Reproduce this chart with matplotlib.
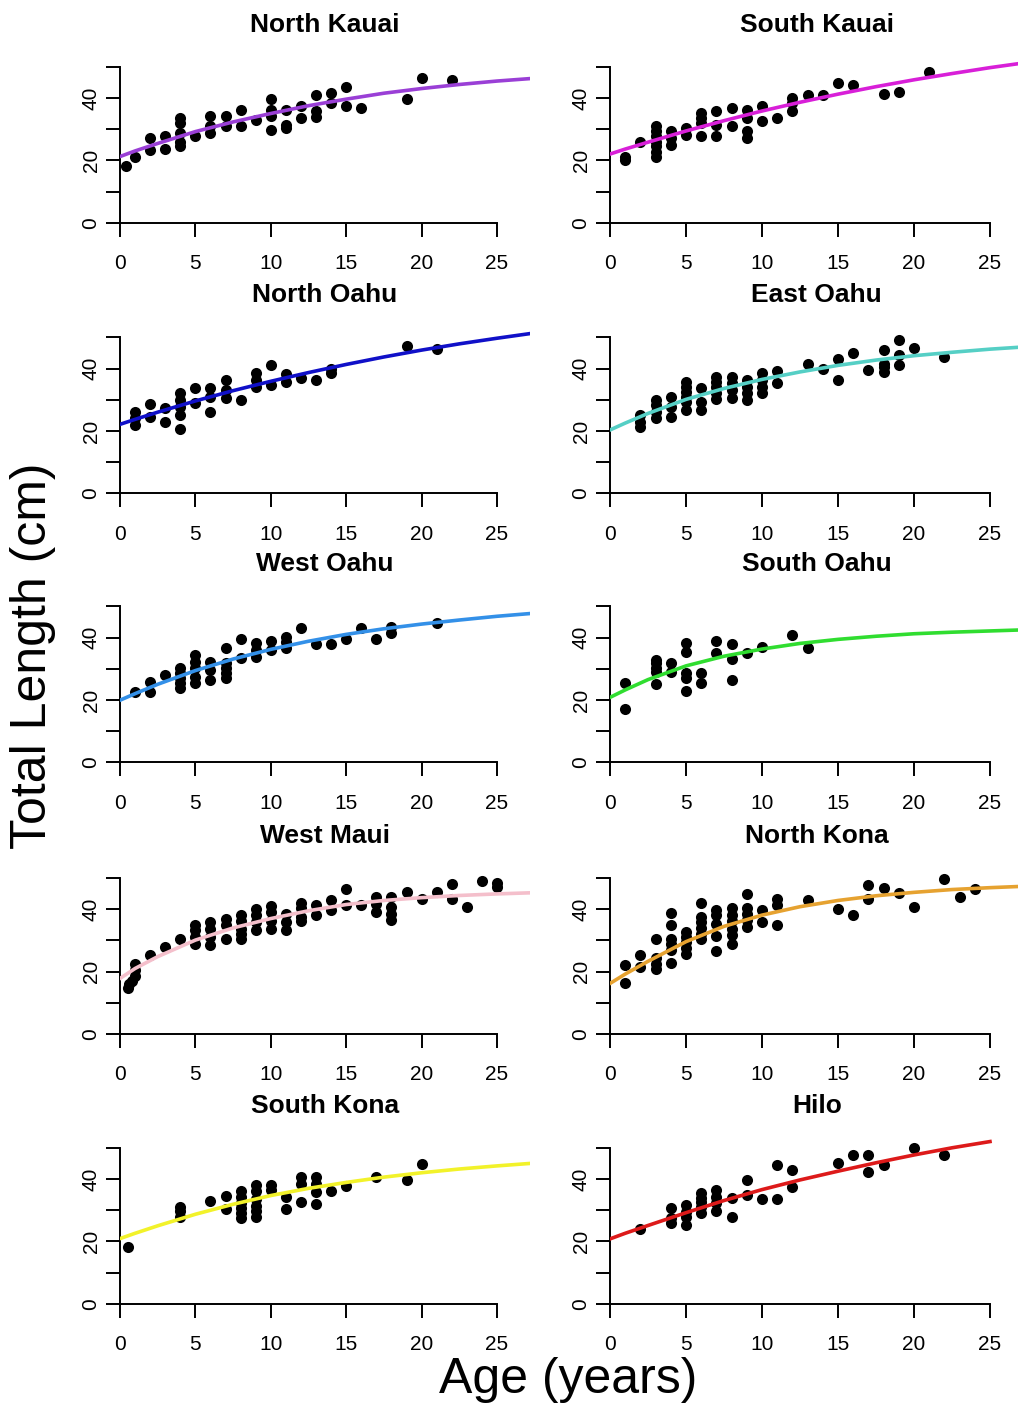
import matplotlib.pyplot as plt
import numpy as np

plt.rcParams['font.family'] = ['Liberation Sans', 'DejaVu Sans']

curve_age = [0, 1, 2.5, 5, 7.5, 10, 12.5, 15, 17.5, 20, 22.5, 25, 27.5]

# North Kauai
nka_age = [0.4, 1, 2, 2, 3, 3, 4, 4, 4, 4, 4, 5, 6, 6, 6, 7, 7, 8, 8, 9,
           10, 10, 10, 10, 11, 11, 11, 12, 12, 13, 13, 13, 14, 14, 15, 15, 16, 19, 20, 22]
nka_len = [18.3, 21.2, 27.3, 23.4, 27.9, 23.6, 33.6, 32.0, 28.7, 26.0, 24.5, 27.7, 34.1, 28.7, 30.9,
           34.1, 31.0, 36.2, 31.1, 33.0, 39.5, 36.2, 34.1, 29.8, 36.2, 31.4, 30.3, 37.3, 33.6,
           40.8, 35.7, 33.9, 41.6, 38.4, 43.5, 37.3, 36.8, 39.5, 46.4, 45.6]
nka_curve = [21.2, 23.0, 25.4, 29.2, 32.3, 35.0, 37.5, 39.6, 41.5, 43.0, 44.3, 45.4, 46.3]

# South Kauai
ska_age = [1, 1, 2, 3, 3, 3, 3, 3, 3, 3, 4, 4, 4, 5, 5, 6, 6, 6, 6, 7, 7, 7, 8, 8,
           9, 9, 9, 9, 10, 10, 11, 12, 12, 12, 13, 14, 15, 16, 18, 19, 21]
ska_len = [20.2, 21.2, 26.0, 30.9, 29.3, 27.7, 26.0, 24.5, 22.8, 21.2, 29.3, 27.1, 25.0, 30.3, 28.2,
           35.2, 33.6, 32.0, 27.7, 35.7, 31.4, 27.9, 36.8, 30.9, 36.2, 33.6, 29.3, 27.1, 37.5, 32.5,
           33.6, 40.0, 38.4, 35.7, 40.9, 40.9, 44.8, 44.1, 41.3, 41.9, 48.3]
ska_curve = [22.0, 23.6, 25.8, 29.4, 32.7, 35.8, 38.6, 41.2, 43.6, 45.8, 47.8, 49.7, 51.4]

# North Oahu
noa_age = [1, 1, 1, 2, 2, 3, 3, 4, 4, 4, 4, 4, 5, 5, 6, 6, 6, 7, 7, 7, 8, 9, 9, 9,
           10, 10, 11, 11, 12, 13, 14, 14, 19, 21]
noa_len = [26.1, 24.0, 21.9, 28.5, 24.5, 27.2, 22.7, 32.0, 29.9, 27.7, 25.1, 20.6, 33.6, 28.8,
           33.6, 31.0, 26.1, 36.3, 33.0, 30.4, 29.9, 38.4, 36.3, 34.1, 41.1, 34.7, 38.1, 35.7,
           36.8, 36.3, 40.0, 38.4, 47.3, 46.2]
noa_curve = [22.1, 23.7, 26.0, 29.6, 32.9, 35.9, 38.7, 41.3, 43.7, 45.9, 47.9, 49.7, 51.4]

# East Oahu
eoa_age = [2, 2, 2, 3, 3, 3, 3, 4, 4, 4, 5, 5, 5, 5, 5, 5, 6, 6, 6, 7, 7, 7, 7, 7,
           8, 8, 8, 8, 9, 9, 9, 9, 10, 10, 10, 10, 11, 11, 13, 14, 15, 15, 16, 17,
           18, 18, 18, 18, 19, 19, 19, 20, 22]
eoa_len = [25.1, 22.9, 21.3, 29.9, 28.3, 26.1, 24.0, 30.9, 27.7, 24.5, 35.7, 34.1, 32.5, 30.9,
           29.3, 26.7, 33.6, 29.3, 26.7, 37.3, 35.7, 34.1, 32.0, 30.2, 37.3, 35.2, 33.1, 30.7,
           36.3, 34.1, 32.0, 29.9, 38.4, 36.3, 34.1, 32.0, 39.1, 35.2, 41.6, 40.0, 43.2, 36.3,
           45.1, 39.5, 45.9, 41.6, 40.5, 38.9, 49.1, 44.3, 41.1, 46.6, 43.7]
eoa_curve = [20.3, 22.5, 25.6, 30.1, 33.6, 36.5, 38.9, 41.0, 42.7, 44.1, 45.2, 46.2, 47.0]

# West Oahu
woa_age = [1, 2, 2, 3, 4, 4, 4, 4, 4, 5, 5, 5, 5, 5, 6, 6, 6, 7, 7, 7, 7, 7, 8, 8,
           9, 9, 9, 10, 10, 11, 11, 11, 12, 13, 14, 15, 16, 17, 18, 18, 21]
woa_len = [22.6, 25.6, 22.6, 27.9, 30.1, 28.5, 26.9, 25.3, 23.9, 34.3, 32.2, 30.1, 27.4, 25.3,
           32.2, 29.5, 26.3, 36.5, 31.7, 30.1, 28.5, 26.9, 39.5, 33.3, 38.1, 35.9, 33.8, 38.8,
           35.9, 40.2, 38.6, 36.5, 43.1, 37.8, 37.8, 39.5, 42.9, 39.4, 43.4, 41.3, 44.8]
woa_curve = [19.9, 22.0, 25.0, 29.4, 33.1, 36.2, 38.8, 41.0, 42.8, 44.3, 45.6, 46.8, 47.8]

# South Oahu
soa_age = [1, 1, 3, 3, 3, 3, 3, 4, 4, 5, 5, 5, 5, 5, 6, 6, 7, 7, 8, 8, 8, 9, 10, 12, 13]
soa_len = [25.3, 17.0, 32.7, 31.7, 30.3, 29.0, 25.0, 31.7, 29.0, 38.1, 35.4, 28.5, 26.9, 22.9,
           28.7, 25.3, 38.9, 34.9, 37.9, 33.1, 26.3, 34.9, 36.8, 40.7, 36.5]
soa_curve = [20.8, 23.2, 26.5, 30.9, 34.0, 36.3, 38.1, 39.4, 40.4, 41.2, 41.7, 42.1, 42.5]

# West Maui
wma_age = [0.5, 0.6, 0.8, 1, 1, 1, 2, 3, 4, 5, 5, 5, 5, 6, 6, 6, 6, 7, 7, 7, 8, 8, 8, 8, 8,
           9, 9, 9, 9, 10, 10, 10, 10, 11, 11, 11, 12, 12, 12, 12, 13, 13, 14, 14, 15, 15, 16,
           17, 17, 17, 18, 18, 18, 18, 19, 20, 21, 22, 22, 23, 24, 25, 25]
wma_len = [14.8, 16.0, 17.0, 18.5, 20.5, 22.5, 25.3, 27.9, 30.6, 34.9, 33.3, 31.1, 29.0,
           35.9, 33.8, 31.1, 28.5, 36.8, 34.9, 30.6, 38.1, 36.3, 33.8, 32.2, 30.4,
           40.2, 38.1, 35.9, 33.3, 41.1, 39.1, 36.3, 33.5, 38.6, 35.9, 33.3, 42.1, 40.4, 37.5, 36.2,
           41.5, 38.1, 43.1, 39.9, 46.4, 41.5, 41.5, 43.9, 41.8, 39.1, 43.9, 40.7, 38.6, 36.5,
           45.5, 43.4, 45.5, 48.2, 43.4, 40.7, 49.0, 48.5, 47.1]
wma_curve = [17.8, 21.0, 24.8, 30.1, 34.0, 37.0, 39.5, 41.5, 42.8, 43.7, 44.4, 44.9, 45.3]

# North Kona
nko_age = [1, 1, 2, 2, 3, 3, 3, 3, 4, 4, 4, 4, 4, 4, 5, 5, 5, 5, 5, 6, 6, 6, 6, 6, 6,
           7, 7, 7, 7, 7, 8, 8, 8, 8, 8, 8, 9, 9, 9, 9, 9, 10, 10, 11, 11, 11, 13, 15, 16,
           17, 17, 18, 19, 20, 22, 23, 24]
nko_len = [22.1, 16.2, 25.3, 21.5, 30.6, 24.2, 22.3, 20.8, 38.9, 34.9, 30.6, 29.0, 26.9, 22.6,
           32.7, 31.1, 29.5, 27.6, 25.8, 42.1, 37.5, 35.9, 34.0, 32.2, 30.4,
           39.7, 38.1, 35.4, 31.5, 26.6, 40.4, 38.1, 36.2, 33.8, 31.7, 29.0,
           44.8, 40.4, 38.6, 36.5, 34.3, 39.7, 35.9, 43.2, 41.5, 34.9, 42.9, 40.0, 38.1,
           47.7, 43.4, 46.9, 45.3, 40.7, 49.6, 43.9, 46.6]
nko_curve = [16.2, 19.2, 23.3, 29.6, 34.5, 38.1, 40.8, 42.8, 44.3, 45.4, 46.3, 46.9, 47.4]

# South Kona
sko_age = [0.5, 4, 4, 4, 6, 7, 7, 8, 8, 8, 8, 8, 8, 9, 9, 9, 9, 9, 9, 10, 10, 11, 11,
           12, 12, 12, 13, 13, 13, 13, 14, 15, 17, 19, 20]
sko_len = [18.2, 31.0, 29.6, 27.8, 33.1, 34.7, 30.5, 36.0, 34.2, 32.4, 30.7, 29.1, 27.5,
           38.1, 36.0, 33.6, 31.5, 29.6, 27.8, 38.1, 36.6, 34.2, 30.5, 40.8, 38.4, 32.6,
           40.8, 38.4, 35.8, 32.0, 36.0, 37.9, 40.8, 39.8, 44.8]
sko_curve = [20.9, 22.6, 25.0, 28.7, 31.9, 34.7, 37.0, 38.9, 40.6, 42.0, 43.2, 44.2, 45.1]

# Hilo
hil_age = [2, 4, 4, 4, 5, 5, 5, 5, 6, 6, 6, 6, 6, 7, 7, 7, 7, 8, 8, 9, 9, 10, 11, 11,
           12, 12, 15, 16, 17, 17, 18, 20, 22]
hil_len = [24.0, 30.8, 27.6, 25.8, 31.7, 29.5, 27.9, 25.3, 35.4, 34.0, 32.7, 31.1, 29.2,
           36.5, 34.3, 32.2, 29.8, 33.8, 27.9, 39.7, 34.9, 33.6, 44.5, 33.6, 42.9, 37.5,
           45.0, 47.7, 47.7, 42.3, 44.5, 49.8, 47.7]
hil_curve = [20.8, 22.6, 25.1, 29.2, 33.1, 36.6, 39.7, 42.5, 45.2, 47.7, 50.0, 52.0, np.nan]

sites = [
    ('North Kauai', nka_age, nka_len, nka_curve, '#9a3fd6'),
    ('South Kauai', ska_age, ska_len, ska_curve, '#d81fd8'),
    ('North Oahu', noa_age, noa_len, noa_curve, '#1010c8'),
    ('East Oahu', eoa_age, eoa_len, eoa_curve, '#55cfc5'),
    ('West Oahu', woa_age, woa_len, woa_curve, '#3390e8'),
    ('South Oahu', soa_age, soa_len, soa_curve, '#30dd30'),
    ('West Maui', wma_age, wma_len, wma_curve, '#f4bfcb'),
    ('North Kona', nko_age, nko_len, nko_curve, '#e6a230'),
    ('South Kona', sko_age, sko_len, sko_curve, '#f2f22a'),
    ('Hilo', hil_age, hil_len, hil_curve, '#dd1a1a'),
]

# layout in pixels (figure is 1018 x 1410)
W, H = 1018, 1410
col_left = [120, 610]
col_scale = [15.08, 15.2]
row_zero = [222.7, 493.3, 762.3, 1034.0, 1303.8]
y_scale = 3.12
XMAX, YMAX = 27.2, 55

fig = plt.figure(figsize=(W / 100, H / 100), dpi=100)

for i, (name, ages, lens, curve, color) in enumerate(sites):
    r, c = divmod(i, 2)
    ax = fig.add_axes([col_left[c] / W, 1 - row_zero[r] / H,
                       XMAX * col_scale[c] / W, YMAX * y_scale / H])
    ax.plot(ages, lens, 'o', color='black', ms=8, mew=0, zorder=2)
    ax.plot(curve_age, curve, color=color, lw=2.6, zorder=3)

    ax.set_xlim(0, XMAX)
    ax.set_ylim(0, YMAX)
    ax.spines['top'].set_visible(False)
    ax.spines['right'].set_visible(False)
    ax.spines['left'].set_bounds(0, 50)
    ax.spines['bottom'].set_bounds(0, 25)
    for s in ('left', 'bottom'):
        ax.spines[s].set_linewidth(1.4)

    ax.set_xticks([0, 5, 10, 15, 20, 25])
    ax.set_yticks([0, 10, 20, 30, 40, 50])
    ax.set_yticklabels(['0', '', '20', '', '40', ''], rotation=90, va='center')
    ax.tick_params(axis='both', length=10, width=1.4, labelsize=15)
    ax.tick_params(axis='x', pad=12.5)
    ax.tick_params(axis='y', pad=4)
    ax.set_title(name, fontsize=19, fontweight='bold', pad=14)

fig.text(33 / W, 1 - 656 / H, 'Total Length (cm)', rotation=90, fontsize=36,
         ha='center', va='center')
fig.text(568 / W, 1 - 1380 / H, 'Age (years)', fontsize=36, ha='center', va='center')

fig.savefig('out.png', dpi=100)
